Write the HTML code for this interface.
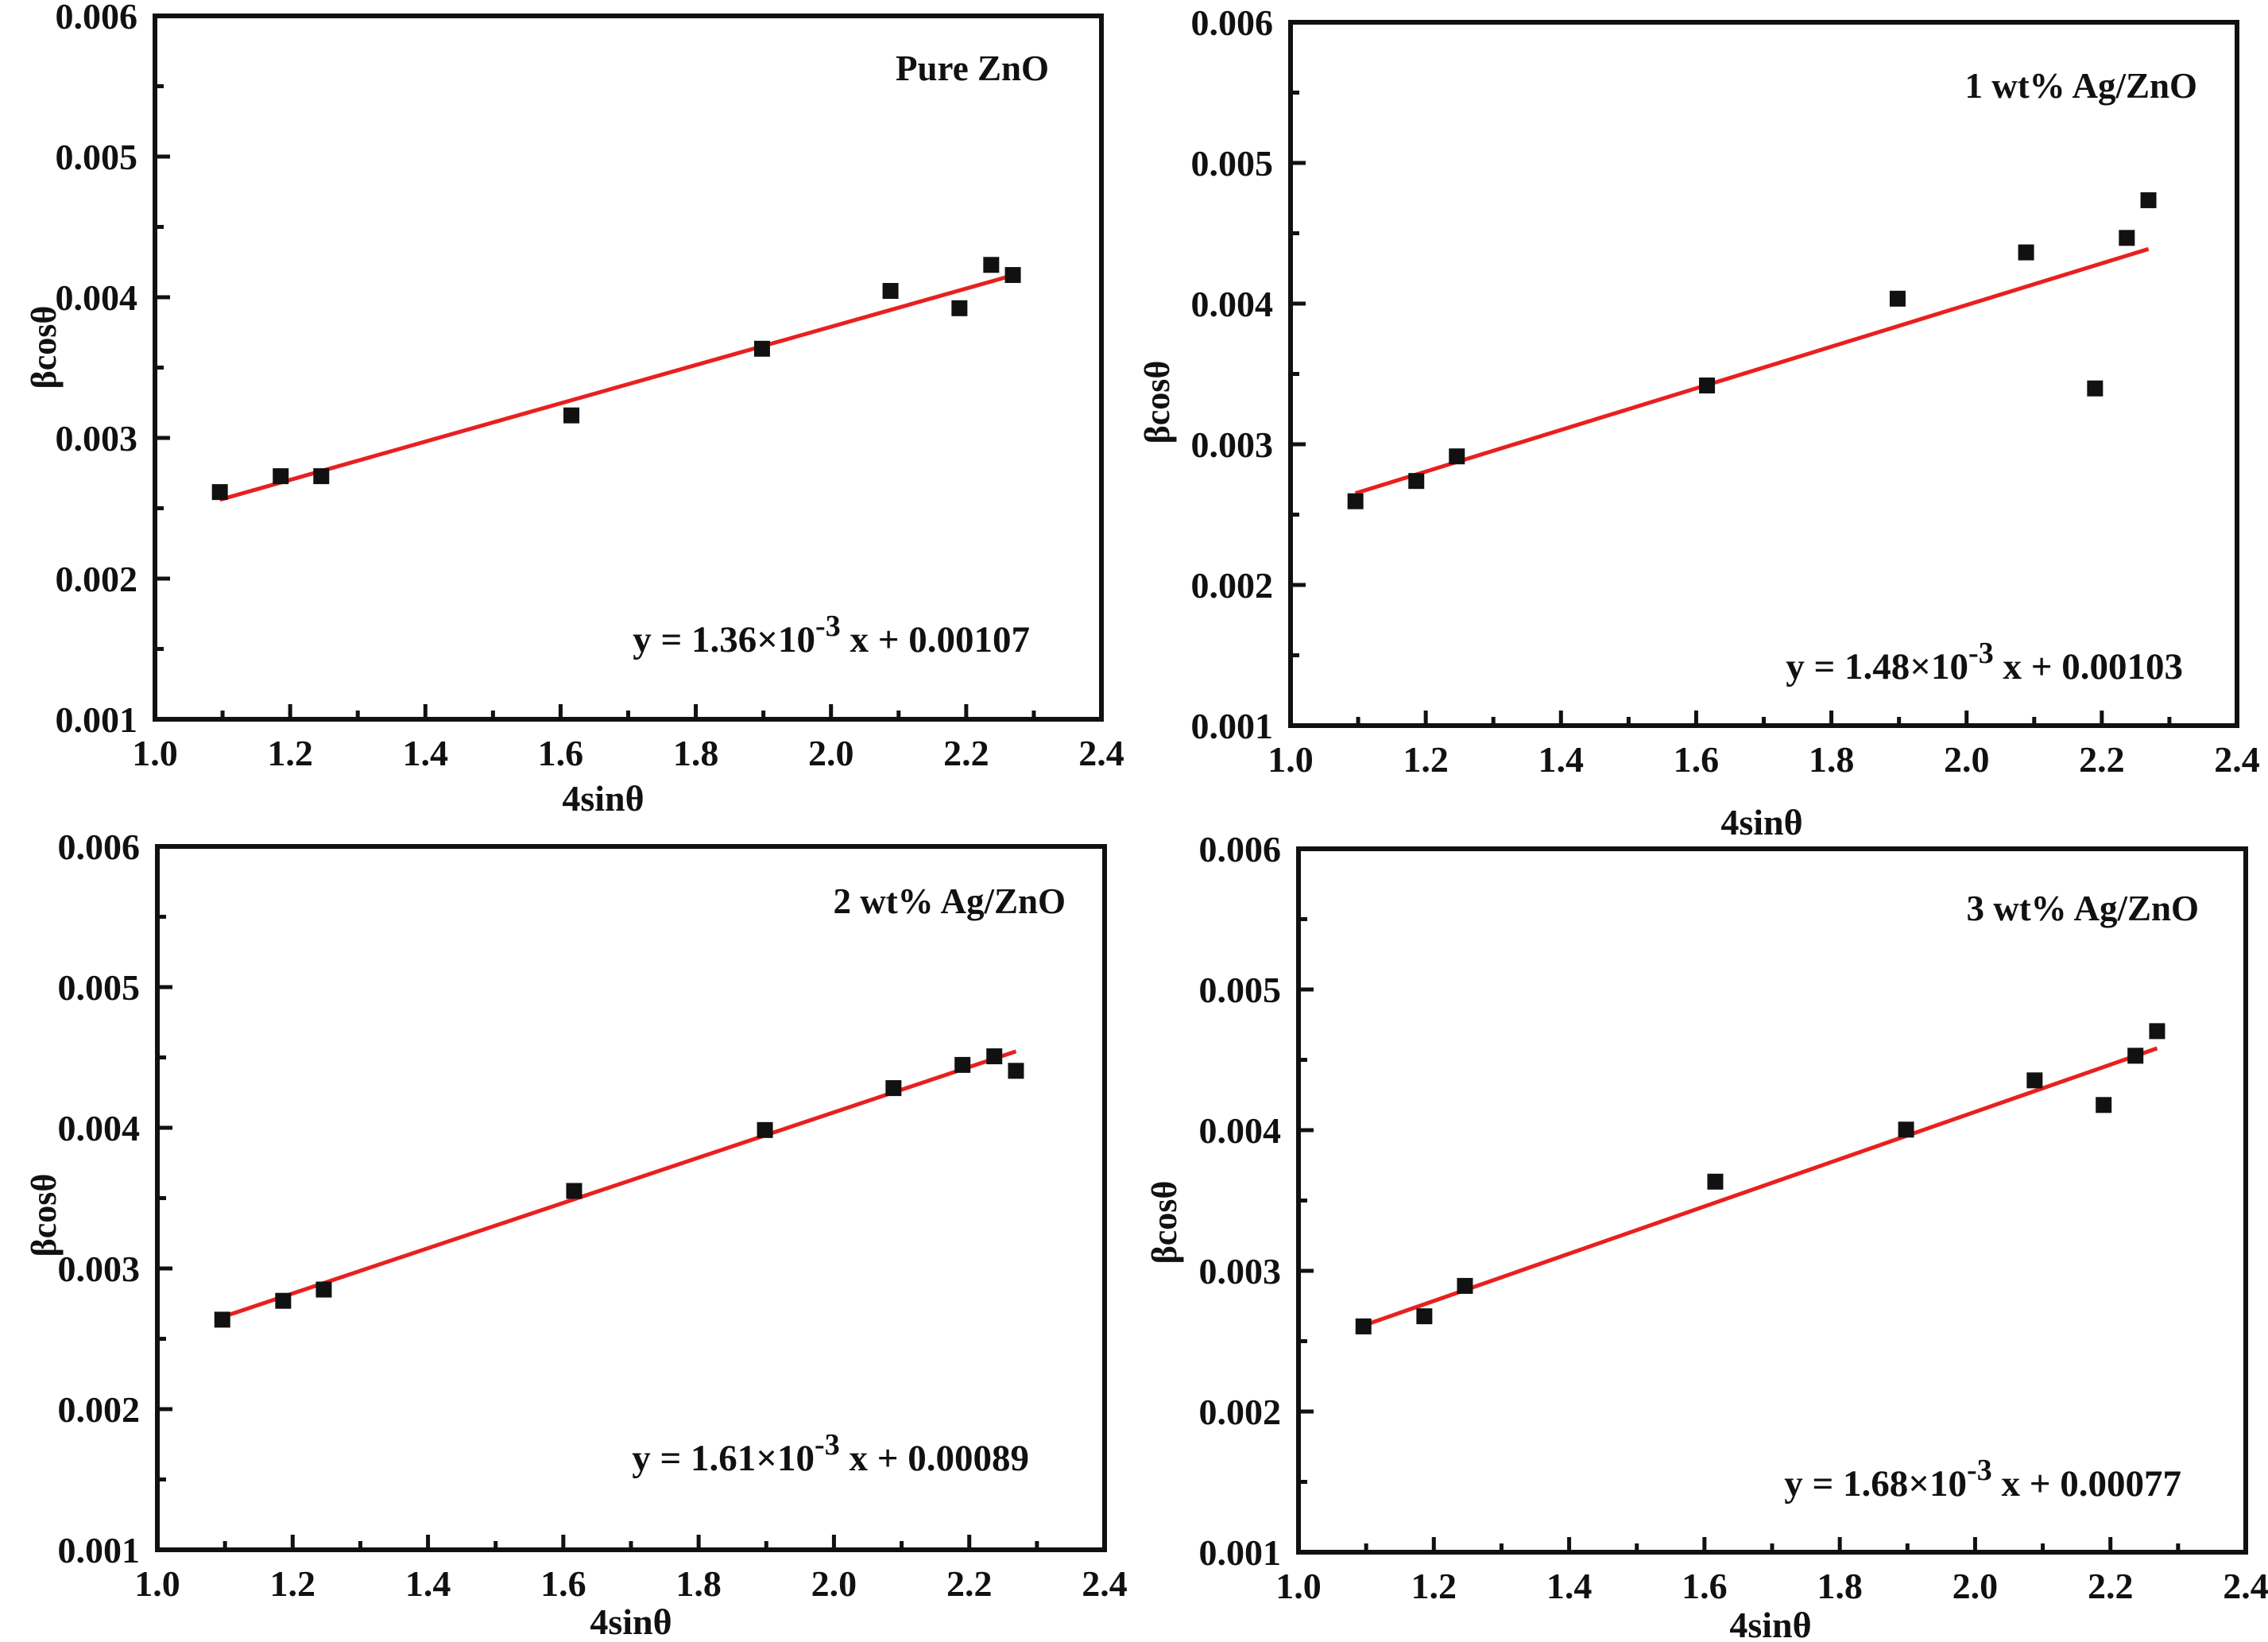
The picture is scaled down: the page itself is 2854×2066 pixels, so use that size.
<!DOCTYPE html>
<html><head><meta charset="utf-8"><style>
html,body{margin:0;padding:0;background:#fff;}
svg{display:block;}
text{font-family:"Liberation Serif",serif;font-weight:bold;fill:#111;}
</style></head><body>
<svg id="chart" width="2854" height="2066" viewBox="0 0 2854 2066" xmlns="http://www.w3.org/2000/svg"></svg>
<script>
const xVals = [1.096, 1.186, 1.246, 1.616, 1.898, 2.088, 2.190, 2.237, 2.269];
const yPure = [0.002615, 0.002728, 0.002728, 0.00316, 0.003634, 0.004045, 0.003922, 0.00423, 0.004158];
const y1wt = [0.002595, 0.002739, 0.002914, 0.003418, 0.004035, 0.004364, 0.003397, 0.004467, 0.004735];
const y2wt = [0.002636, 0.00277, 0.00285, 0.003551, 0.003984, 0.004282, 0.004447, 0.004508, 0.004405];
const y3wt = [0.002605, 0.002677, 0.002893, 0.003634, 0.004004, 0.004354, 0.004179, 0.004529, 0.004704];
const slopes = [1.36e-3, 1.48e-3, 1.61e-3, 1.68e-3];
const intercepts = [0.00107, 0.00103, 0.00089, 0.00077];
const sampleNames = ["Pure ZnO", "1 wt% Ag/ZnO", "2 wt% Ag/ZnO", "3 wt% Ag/ZnO"];
const slopeLabels = ["1.36", "1.48", "1.61", "1.68"];
const interceptLabels = ["0.00107", "0.00103", "0.00089", "0.00077"];
const xTicks = [1.0, 1.2, 1.4, 1.6, 1.8, 2.0, 2.2, 2.4];
const yTicks = [0.001, 0.002, 0.003, 0.004, 0.005, 0.006];

const panels = [
 {l:195,r:1386,t:20,b:905, ys:yPure, name:[1320,101], eq:[1296,820], xt:[759,1020], yt:[55,437]},
 {l:1624,r:2815,t:28,b:913, ys:y1wt, name:[2765,123], eq:[2747,854], xt:[2217,1050], yt:[1456,506]},
 {l:198,r:1390,t:1065,b:1950, ys:y2wt, name:[1341,1149], eq:[1295,1850], xt:[794,2056], yt:[55,1529]},
 {l:1634,r:2826,t:1068,b:1953, ys:y3wt, name:[2767,1158], eq:[2745,1882], xt:[2228,2060], yt:[1465,1538]}
];
const NS = "http://www.w3.org/2000/svg";
const svg = document.getElementById('chart');
function mk(tag, attrs, parent){const e=document.createElementNS(NS,tag);for(const k in attrs)e.setAttribute(k,attrs[k]);(parent||svg).appendChild(e);return e;}

panels.forEach((p,i)=>{
  const g = mk('g',{});
  
  
  const sx = v => p.l + (v-1.0)/(2.4-1.0)*(p.r-p.l);
  const sy = v => p.b - (v-0.001)/(0.006-0.001)*(p.b-p.t);
  for(let v=1.0; v<=2.41; v+=0.1){
    const major = Math.round(v*10)%2===0;
    const t = mk('line',{x1:sx(v),x2:sx(v),y1:p.b,y2:p.b-(major?19:11),stroke:'#111','stroke-width':5},g);
    
    
  }
  for(let k=0;k<=10;k++){
    const v=0.001+k*0.0005;
    const t = mk('line',{x1:p.l,x2:p.l+(k%2===0?19:11),y1:sy(v),y2:sy(v),stroke:'#111','stroke-width':5},g);
    
    
  }
  const frame = mk('rect',{x:p.l,y:p.t,width:p.r-p.l,height:p.b-p.t,fill:'none',stroke:'#111','stroke-width':6},g);
  
  
  xTicks.forEach(v=>{
    const t = mk('text',{x:sx(v),y:p.b+58,'font-size':46,'text-anchor':'middle'},g);
    t.textContent = v.toFixed(1);
    
    
  });
  yTicks.forEach(v=>{
    const t = mk('text',{x:p.l-22,y:sy(v)+16,'font-size':46,'text-anchor':'end'},g);
    t.textContent = v.toFixed(3);
    
    
  });
  const xt = mk('text',{x:p.xt[0],y:p.xt[1],'font-size':46,'text-anchor':'middle'},g);
  xt.textContent='4sinθ';
  
  
  const yt = mk('text',{x:p.yt[0],y:p.yt[1],'font-size':44,'font-weight':'normal','text-anchor':'middle',transform:`rotate(-90 ${p.yt[0]} ${p.yt[1]}) translate(0 15)`},g);
  yt.textContent='βcosθ';
  
  
  const x0=xVals[0], x1=xVals[xVals.length-1];
  const fl = mk('line',{x1:sx(x0),y1:sy(slopes[i]*x0+intercepts[i]),x2:sx(x1),y2:sy(slopes[i]*x1+intercepts[i]),stroke:'#e8201f','stroke-width':5},g);
  
  
  xVals.forEach((xv,j)=>{
    const s = mk('rect',{x:sx(xv)-10,y:sy(p.ys[j])-10,width:20,height:20,fill:'#111'},g);
    
    
  });
  const nm = mk('text',{x:p.name[0],y:p.name[1],'font-size':45,'text-anchor':'end'},g);
  nm.textContent = sampleNames[i];
  
  
  const eq = mk('text',{x:p.eq[0],y:p.eq[1],'font-size':47,'text-anchor':'end'},g);
  
  
  const a = mk('tspan',{},eq); a.textContent='y = '+slopeLabels[i]+'×10';
  const b = mk('tspan',{dy:-20,'font-size':38},eq); b.textContent='-3';
  const c = mk('tspan',{dy:20},eq); c.textContent=' x + '+interceptLabels[i];
});
</script>
</body></html>
